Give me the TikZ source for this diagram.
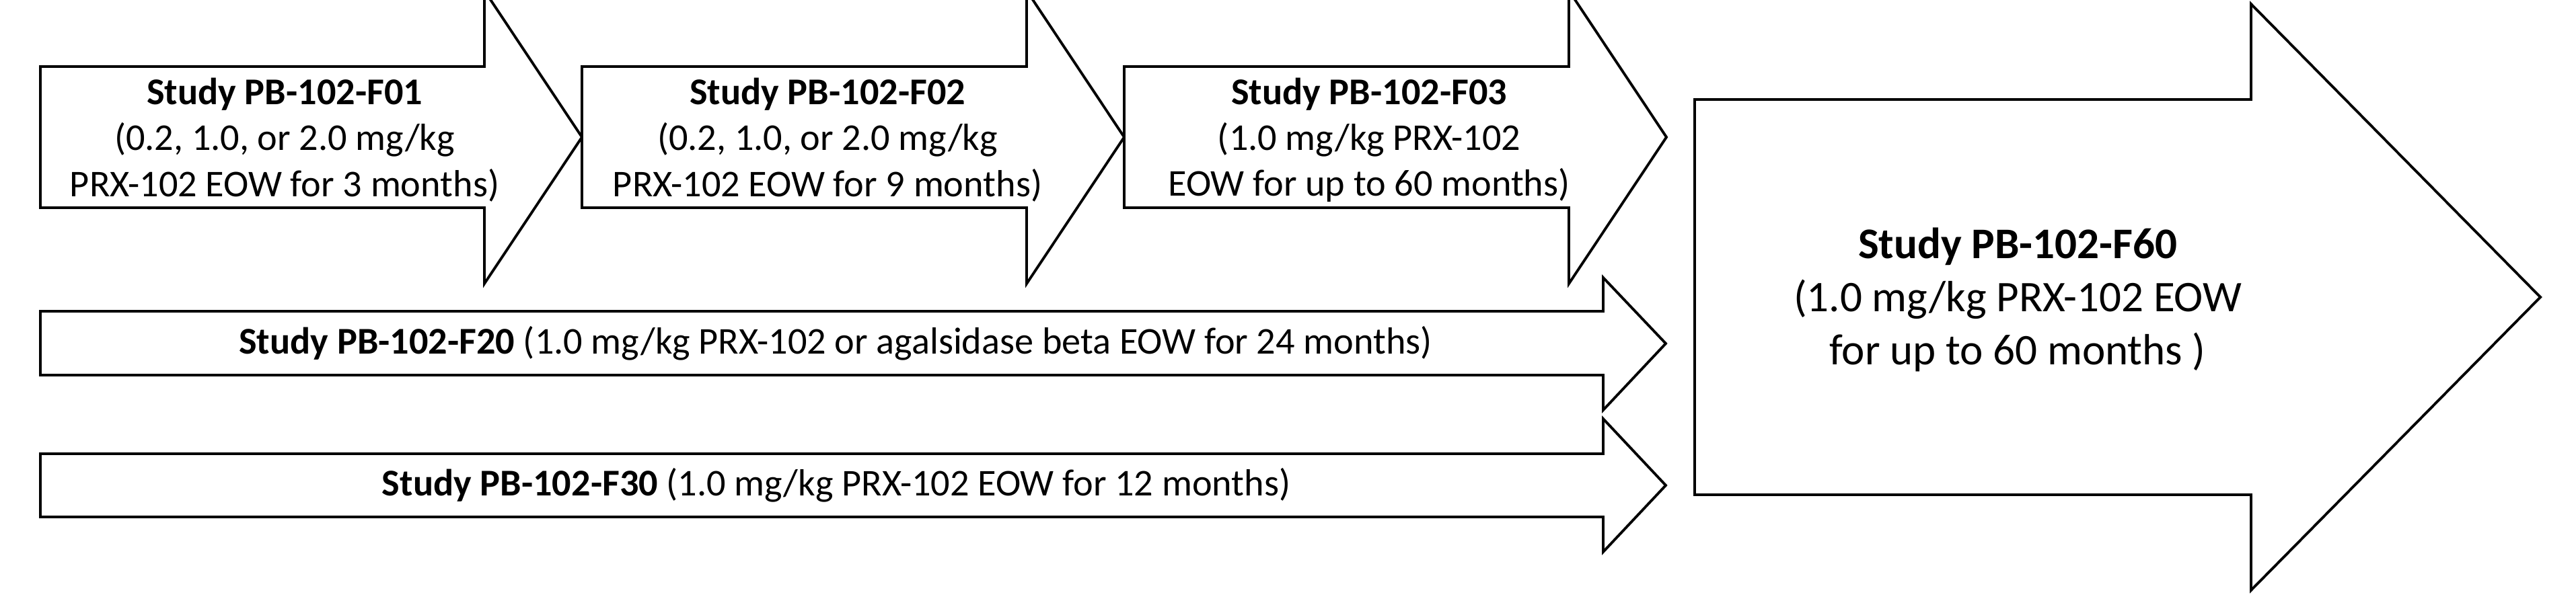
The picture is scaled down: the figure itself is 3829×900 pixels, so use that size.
\documentclass[tikz,border=0pt]{standalone}
\usepackage{fontspec}
\setmainfont{Carlito}
\usetikzlibrary{positioning}
\tikzset{studyarrow/.style={draw=black,fill=white,line width=1.1pt,line join=miter}}
\tikzset{studytext/.style={align=center,inner sep=0pt,font=\fontsize{16}{19.4}\selectfont}}

\begin{document}
\begin{tikzpicture}[x=0.1mm,y=-0.1mm]
\clip (0,0) rectangle (3829,900);
\fill[white] (0,0) rectangle (3829,900);
% \draw[help lines] (0,0) grid (3829,900);
% top row
\draw[studyarrow] (60,99) -- (720,99) -- (720,-14) -- (865,204) -- (720,422) -- (720,309) -- (60,309) -- cycle;
\draw[studyarrow] (865,99) -- (1526,99) -- (1526,-14) -- (1671,204) -- (1526,422) -- (1526,309) -- (865,309) -- cycle;
\draw[studyarrow] (1671,99) -- (2332,99) -- (2332,-14) -- (2477,204) -- (2332,422) -- (2332,309) -- (1671,309) -- cycle;
% long ones
\draw[studyarrow] (60,463) -- (2383,463) -- (2383,413) -- (2476,511) -- (2383,610) -- (2383,558) -- (60,558) -- cycle;
\draw[studyarrow] (60,675) -- (2383,675) -- (2383,623) -- (2476,722) -- (2383,821) -- (2383,769) -- (60,769) -- cycle;
% F60
\draw[studyarrow] (2519,148) -- (3346,148) -- (3346,6) -- (3776,442) -- (3346,878) -- (3346,736) -- (2519,736) -- cycle;
%
\node (f01) [studytext] at (423,208) {\textbf{Study PB-102-F01}\\(0.2, 1.0, or 2.0 mg/kg\\PRX-102 EOW for 3 months)};
\node (f02) [studytext] at (1230,208) {\textbf{Study PB-102-F02}\\(0.2, 1.0, or 2.0 mg/kg\\PRX-102 EOW for 9 months)};
\node (f03) [studytext] at (2035,208) {\textbf{Study PB-102-F03}\\(1.0 mg/kg PRX-102\\EOW for up to 60 months)};
\node (f20) [studytext] at (1242,511) {\textbf{Study PB-102-F20} (1.0 mg/kg PRX-102 or agalsidase beta EOW for 24 months)};
\node (f30) [studytext] at (1243,722) {\textbf{Study PB-102-F30} (1.0 mg/kg PRX-102 EOW for 12 months)};
\node (f60) [studytext,font=\fontsize{18.5}{22.5}\selectfont] at (2999,446) {\textbf{Study PB-102-F60}\\(1.0 mg/kg PRX-102 EOW\\for up to 60 months )};
\end{tikzpicture}
\end{document}
